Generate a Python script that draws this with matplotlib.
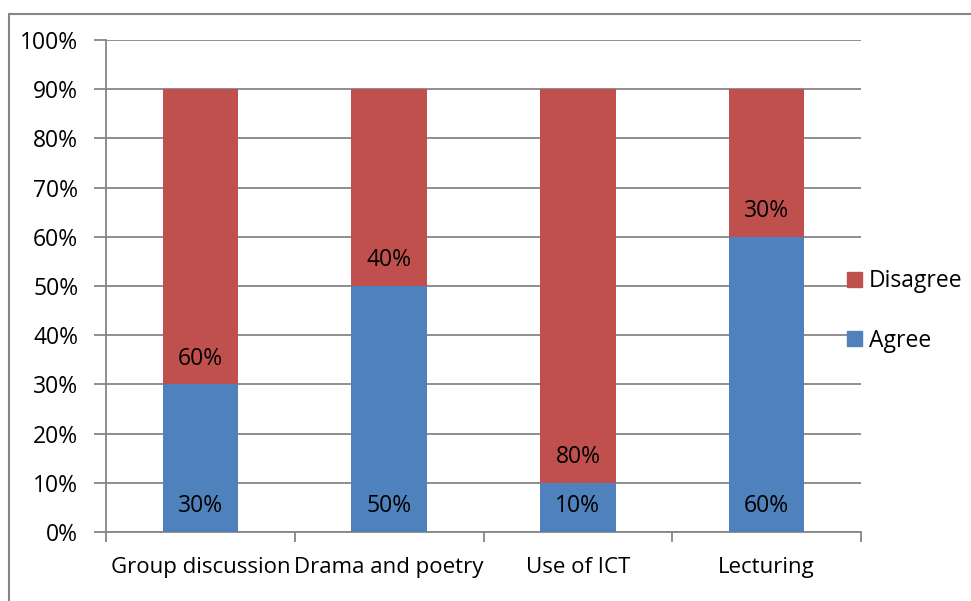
import matplotlib
matplotlib.use("Agg")
import matplotlib.pyplot as plt
from matplotlib.patches import Rectangle, Patch
import numpy as np

categories = ["Group discussion", "Drama and poetry", "Use of ICT", "Lecturing"]
agree = [30, 50, 10, 60]
disagree = [60, 40, 80, 30]
yticks = [0, 10, 20, 30, 40, 50, 60, 70, 80, 90, 100]

plt.rcParams['font.family'] = ['Open Sans', 'DejaVu Sans']
W, H = 971, 601
fig = plt.figure(figsize=(W/100, H/100), dpi=100)
fig.patches.append(Rectangle((9/W, -0.1), 1.2, (H-14)/H + 0.1, transform=fig.transFigure,
                             fill=False, edgecolor='#868686', linewidth=1.5))
ax = fig.add_axes([106/W, (H-532)/H, (861-106)/W, (532-40)/H])

blue = '#4F81BD'
red = '#C0504D'
grid = '#868686'
x = np.arange(len(categories))
ax.bar(x, agree, width=0.4, color=blue, zorder=3)
ax.bar(x, disagree, width=0.4, bottom=agree, color=red, zorder=3)

for i in range(len(categories)):
    ax.annotate(f"{agree[i]}%", (x[i], 0), xytext=(0, 18.5), textcoords='offset points',
                ha='center', va='center', fontsize=16.5, color='black', zorder=4)
    ax.annotate(f"{disagree[i]}%", (x[i], agree[i]), xytext=(0, 18.5), textcoords='offset points',
                ha='center', va='center', fontsize=16.5, color='black', zorder=4)

ax.set_xlim(-0.5, len(categories) - 0.5)
ax.set_ylim(0, 100)
ax.set_yticks(yticks)
ax.set_yticklabels([f"{v}%" for v in yticks], fontsize=16.5)
ax.yaxis.grid(True, color=grid, linewidth=1.3, zorder=0)
ax.set_xticks(x)
ax.set_xticklabels(categories, fontsize=16)
ax.tick_params(axis='x', which='major', length=0, pad=18)
ax.set_xticks(np.arange(len(categories) + 1) - 0.5, minor=True)
ax.tick_params(axis='x', which='minor', length=7, color=grid, width=1.3, direction='out')
ax.tick_params(axis='y', length=9, color=grid, width=1.3, pad=11)
for s in ['top', 'right']:
    ax.spines[s].set_visible(False)
for s in ['left', 'bottom']:
    ax.spines[s].set_color(grid)
    ax.spines[s].set_linewidth(1.3)

handles = [Patch(color=red, label='Disagree'), Patch(color=blue, label='Agree')]
fig.legend(handles=handles, loc='center left', bbox_to_anchor=(847/W, (H-311)/H),
           frameon=False, fontsize=16.5, handlelength=0.65, handleheight=0.65,
           handletextpad=0.3, labelspacing=1.55, borderaxespad=0, borderpad=0)

fig.savefig("out.png", dpi=100)
